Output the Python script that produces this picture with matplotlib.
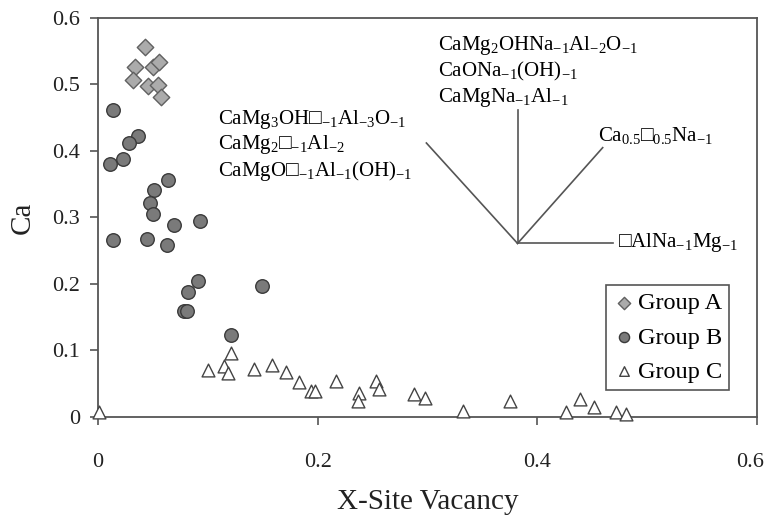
import matplotlib
matplotlib.use("Agg")
import matplotlib.pyplot as plt
import matplotlib.transforms as mtransforms

plt.rcParams['font.family'] = ['Liberation Serif', 'DejaVu Sans']
plt.rcParams['mathtext.fontset'] = 'custom'
plt.rcParams['mathtext.rm'] = 'Liberation Serif'
plt.rcParams['mathtext.it'] = 'Liberation Serif'

# Group A (diamonds)
a_x = [0.043, 0.034, 0.050, 0.056, 0.032, 0.046, 0.055, 0.057]
a_y = [0.557, 0.526, 0.527, 0.534, 0.507, 0.498, 0.499, 0.481]

# Group B (circles)
b_x = [0.014, 0.036, 0.028, 0.023, 0.011, 0.064, 0.051, 0.047, 0.050, 0.069,
       0.093, 0.014, 0.045, 0.063, 0.091, 0.082, 0.078, 0.081, 0.149, 0.121]
b_y = [0.462, 0.423, 0.412, 0.388, 0.381, 0.356, 0.341, 0.322, 0.305, 0.288,
       0.294, 0.266, 0.267, 0.259, 0.205, 0.188, 0.160, 0.160, 0.197, 0.124]

# Group C (triangles)
c_x = [0.001, 0.100, 0.121, 0.115, 0.118, 0.142, 0.158, 0.171, 0.183, 0.194,
       0.198, 0.217, 0.238, 0.237, 0.253, 0.256, 0.288, 0.298, 0.332, 0.375,
       0.426, 0.439, 0.452, 0.472, 0.481]
c_y = [0.008, 0.071, 0.096, 0.077, 0.066, 0.072, 0.078, 0.067, 0.052, 0.039,
       0.039, 0.054, 0.036, 0.024, 0.054, 0.042, 0.035, 0.029, 0.009, 0.024,
       0.007, 0.027, 0.015, 0.008, 0.004]

# exchange vectors: origin and end points
vec_origin = (0.382, 0.261)
vec_ends = [(0.382, 0.462), (0.469, 0.261), (0.4595, 0.405), (0.299, 0.412)]

x_ticks = [0, 0.2, 0.4, 0.6]
x_tick_labels = ['0', '0.2', '0.4', '0.6']
y_ticks = [0, 0.1, 0.2, 0.3, 0.4, 0.5, 0.6]
y_tick_labels = ['0', '0.1', '0.2', '0.3', '0.4', '0.5', '0.6']

sq = '\u25a1'
top_labels = [r'CaMg$_2$OHNa$_{-1}$Al$_{-2}$O$_{-1}$',
              r'CaONa$_{-1}$(OH)$_{-1}$',
              r'CaMgNa$_{-1}$Al$_{-1}$']
left_labels = [r'CaMg$_3$OH' + sq + r'$_{-1}$Al$_{-3}$O$_{-1}$',
               r'CaMg$_2$' + sq + r'$_{-1}$Al$_{-2}$',
               r'CaMgO' + sq + r'$_{-1}$Al$_{-1}$(OH)$_{-1}$']
right_label = r'Ca$_{0.5}$' + sq + r'$_{0.5}$Na$_{-1}$'
bottom_label = sq + r'AlNa$_{-1}$Mg$_{-1}$'

fig = plt.figure(figsize=(7.69, 5.15), dpi=100)
ax = fig.add_axes([0.1274, 0.1903, 0.857, 0.7748])

edge = '#555555'
ax.scatter(a_x, a_y, marker='D', s=70, facecolor='#ababab', edgecolor='#606060',
           linewidth=1.0, label='Group A', zorder=3)
ax.scatter(b_x, b_y, marker='o', s=95, facecolor='#7a7a7a', edgecolor='#3a3a3a',
           linewidth=1.0, label='Group B', zorder=3)
ax.scatter(c_x, c_y, marker='^', s=85, facecolor='white', edgecolor='#444444',
           linewidth=1.0, label='Group C', zorder=3, clip_on=False)

for ex, ey in vec_ends:
    ax.plot([vec_origin[0], ex], [vec_origin[1], ey], color='#555555', lw=1.2)

fs = 15
for i, t in enumerate(top_labels):
    ax.text(0.3096, 0.559 - i * 0.0395, t, fontsize=fs, va='center', ha='left')
for i, t in enumerate(left_labels):
    ax.text(0.1093, 0.448 - i * 0.039, t, fontsize=fs, va='center', ha='left')
ax.text(0.4552, 0.424, right_label, fontsize=fs, va='center', ha='left')
ax.text(0.4735, 0.263, bottom_label, fontsize=fs, va='center', ha='left')

ax.set_xlim(0, 0.6)
ax.set_ylim(0, 0.6)
ax.set_xticks(x_ticks)
ax.set_xticklabels(x_tick_labels)
ax.set_yticks(y_ticks)
ax.set_yticklabels(y_tick_labels)
ax.tick_params(direction='out', length=6, width=1.2, color=edge,
               labelsize=16, labelcolor='#222222')
ax.tick_params(axis='x', pad=20)
ax.tick_params(axis='y', pad=7)
for sp in ax.spines.values():
    sp.set_color(edge)
    sp.set_linewidth(1.3)

# nudge the last x label so it stays inside the figure
last = ax.get_xticklabels()[-1]
last.set_transform(last.get_transform() +
                   mtransforms.ScaledTranslation(-5 / 72, 0, fig.dpi_scale_trans))

ax.set_xlabel('X-Site Vacancy', fontsize=21, color='#222222', labelpad=12)
ax.set_ylabel('Ca', fontsize=21, color='#222222', labelpad=12)

leg = ax.legend(loc='lower right', bbox_to_anchor=(0.9575, 0.0677),
                borderaxespad=0, fancybox=False, edgecolor=edge, fontsize=17.5,
                markerscale=0.75, handletextpad=0.1, handlelength=0.9,
                borderpad=0.3, labelspacing=0.5, framealpha=1)
leg.get_frame().set_linewidth(1.2)

fig.savefig('out.png', dpi=100)
